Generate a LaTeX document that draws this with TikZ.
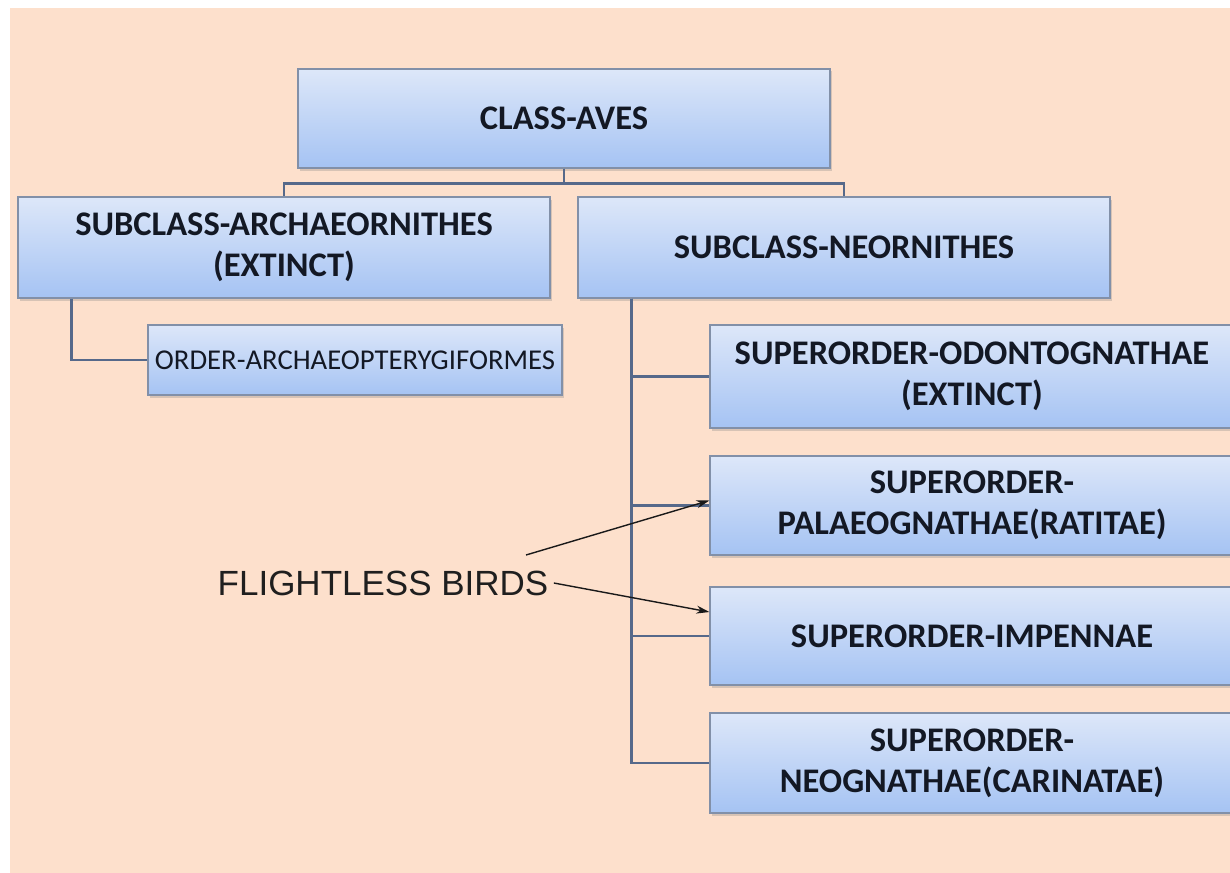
\documentclass[tikz,border=0pt]{standalone}
\usepackage{fontspec}
\setmainfont{Carlito}
\newfontfamily\arialfont{Liberation Sans}
\usepackage{tikz}
\usetikzlibrary{arrows.meta,positioning,calc,shadows}
\definecolor{peach}{HTML}{FDE0CC}
\definecolor{boxtop}{HTML}{DDE7F9}
\definecolor{boxbot}{HTML}{A5C3F3}
\definecolor{boxline}{HTML}{8290A8}
\definecolor{linkcol}{HTML}{56698A}
\definecolor{textdark}{HTML}{131824}

\begin{document}
\begin{tikzpicture}[x=1pt,y=-1pt,
  taxbox/.style={draw=boxline,line width=1.2pt,top color=boxtop,bottom color=boxbot,
    minimum width=532pt,minimum height=100pt,inner sep=0pt,align=center,
    font=\fontsize{34.5}{41}\selectfont\bfseries,text=textdark,
    drop shadow={opacity=0.3,shadow xshift=1.5pt,shadow yshift=-2.5pt}},
  superbox/.style={taxbox,minimum width=524pt},
  link/.style={draw=linkcol,line width=2.5pt},
  pointer/.style={-{Stealth[length=13pt,width=8pt]},line width=1.4pt,draw=black!90}]
\useasboundingbox (0,0) rectangle (1230,872);
\clip (0,0) rectangle (1230,872);
% slide background
\fill[white] (0,0) rectangle (1230,872);
\fill[peach] (10,8) rectangle (1240,880);
% class and subclasses
\node[taxbox,minimum height=99pt] (aves) at (564,118.5) {CLASS-AVES};
\node[taxbox,minimum height=101pt] (archae) at (284,247.5) {SUBCLASS-ARCHAEORNITHES\\(EXTINCT)};
\node[taxbox,minimum height=101pt] (neorn) at (844,247.5) {SUBCLASS-NEORNITHES};
% order under Archaeornithes
\node[taxbox,minimum width=414pt,minimum height=70pt,
  font=\fontsize{28.7}{34}\selectfont] (order) at (355,360) {ORDER-ARCHAEOPTERYGIFORMES};
% superorders under Neornithes
\node[superbox,minimum height=103pt] (odonto) at (972,376.5) {SUPERORDER-ODONTOGNATHAE\\(EXTINCT)};
\node[superbox,minimum height=99pt] (palaeo) at (972,505.5) {SUPERORDER-\\PALAEOGNATHAE(RATITAE)};
\node[superbox,minimum height=98pt] (impen) at (972,636) {SUPERORDER-IMPENNAE};
\node[superbox,minimum height=100pt] (neogn) at (972,763) {SUPERORDER-\\NEOGNATHAE(CARINATAE)};
% tree links
\draw[link] (aves.south) -- ++(0,15) -| (archae.north);
\draw[link] (aves.south) -- ++(0,15) -| (neorn.north);
\draw[link] ([xshift=54pt]archae.south west) |- (order.west);
\draw[link] ([xshift=54pt]neorn.south west) |- (odonto.west);
\draw[link] ([xshift=54pt]neorn.south west) |- (palaeo.west);
\draw[link] ([xshift=54pt]neorn.south west) |- (impen.west);
\draw[link] ([xshift=54pt]neorn.south west) |- (neogn.west);
% flightless label
\node[font=\arialfont\fontsize{35}{40}\selectfont,text=black!88] (flight) at (383,583) {FLIGHTLESS BIRDS};
\coordinate (tail) at (526,555);
\draw[pointer] (tail) -- ([yshift=5pt]palaeo.west);
\draw[pointer] ([xshift=2pt]flight.east) -- ([yshift=24pt]impen.west);
\end{tikzpicture}
\end{document}
